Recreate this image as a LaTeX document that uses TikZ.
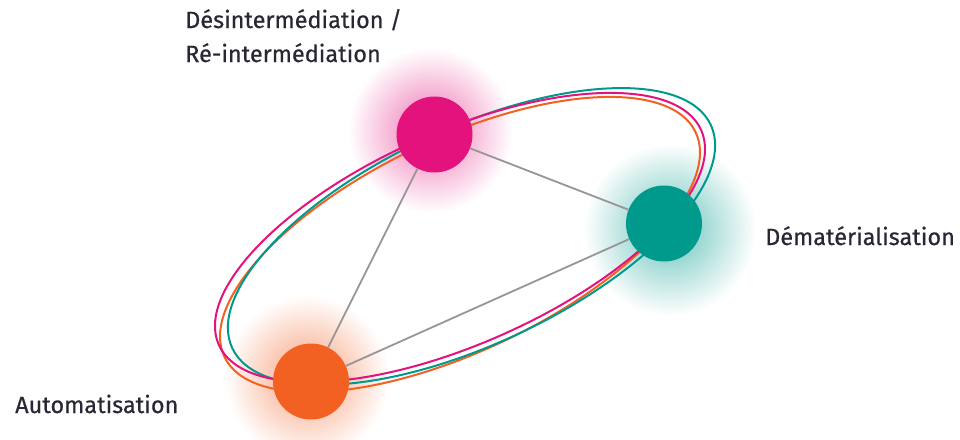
\documentclass[tikz,border=0pt]{standalone}
\usepackage{fontspec}
\setmainfont{Fira Sans}[FakeBold=0.5]
\usetikzlibrary{fadings,calc}
\definecolor{pinkc}{RGB}{228,18,125}
\definecolor{tealc}{RGB}{0,154,140}
\definecolor{orangec}{RGB}{242,96,34}
\definecolor{linkc}{RGB}{150,150,152}
\definecolor{labelc}{RGB}{40,40,52}
\pgfdeclarelayer{bg}
\pgfsetlayers{bg,main}
\tikzfading[name=glowfade, inner color=transparent!40, outer color=transparent!100]
\begin{document}
\begin{tikzpicture}[x=1pt,y=-1pt,
  hub/.style={circle, minimum size=76pt, inner sep=0pt, fill=#1},
  link/.style={draw=linkc, line width=1.8pt},
  orbit/.style={draw=#1, line width=2pt},
  halo/.style={fill=#1, path fading=glowfade},
  label/.style={font=\fontsize{23.5}{23.5}\selectfont, text=labelc, inner sep=0pt, anchor=base west}]
\useasboundingbox (0,0) rectangle (960,439);

% the three hubs
\node[hub=pinkc]   (dis) at (434.5,134.5) {};
\node[hub=tealc]   (dem) at (664,223.5) {};
\node[hub=orangec] (aut) at (311,381.5) {};

% links between the hubs
\draw[link] (dis) -- (dem);
\draw[link] (dis) -- (aut);
\draw[link] (dem) -- (aut);

\begin{pgfonlayer}{bg}
  % soft halos behind the hubs
  \fill[halo=pinkc]   ($(dis)+(-4,-4)$) circle (82);
  \fill[halo=tealc]   ($(dem)+(6,6)$) circle (86);
  \fill[halo=orangec] ($(aut)+(-4,-4)$) circle (82);
  % three interlaced orbits
  \draw[orbit=orangec, rotate around={25.5:(460,244.5)}] (460,244.5) ellipse [x radius=261, y radius=106];
  \draw[orbit=tealc,   rotate around={25:(471.5,236.5)}] (471.5,236.5) ellipse [x radius=264, y radius=108];
  \draw[orbit=pinkc,   rotate around={24:(460,237.5)}] (460,237.5) ellipse [x radius=264, y radius=106];
\end{pgfonlayer}

% labels
\node[label] (l1a) at (185,28)  {Désintermédiation /};
\node[label] (l1b) at (185,62)  {Ré-intermédiation};
\node[label] (l2)  at (765,245) {Dématérialisation};
\node[label] (l3)  at (15,413)  {Automatisation};
\end{tikzpicture}
\end{document}
